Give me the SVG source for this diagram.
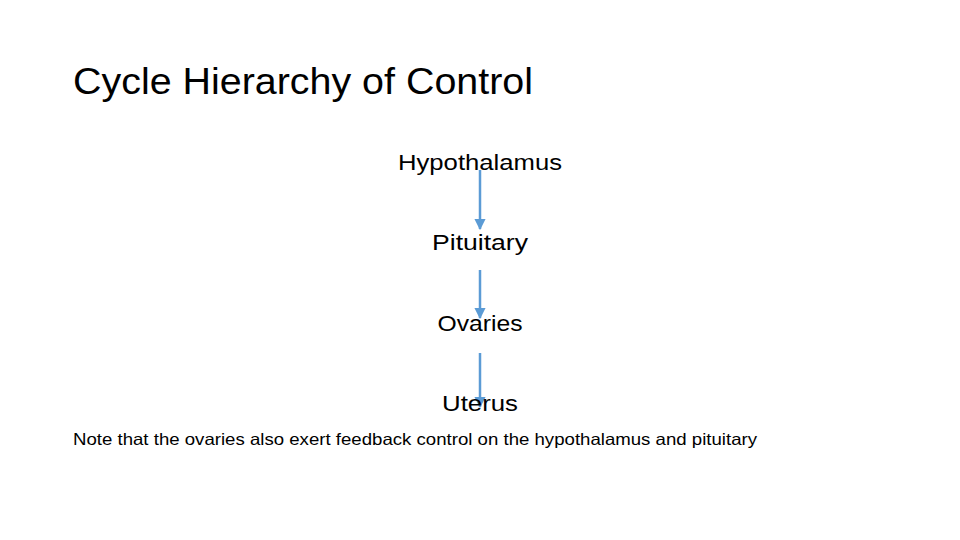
<svg xmlns="http://www.w3.org/2000/svg" width="960" height="540" viewBox="0 0 960 540">
<defs>
<style>
text{font-family:"Liberation Sans",Arial,sans-serif;fill:#000}
.t{font-size:36px}
.n{font-size:22px;text-anchor:middle}
.s{font-size:16.5px}
.c line{stroke:#5B9BD5;stroke-width:2.5;marker-end:url(#ah)}
</style>
<marker id="ah" viewBox="0 0 10 10" refX="9" refY="5" markerWidth="4.5" markerHeight="4.5" orient="auto" markerUnits="strokeWidth">
<path d="M0,0 L10,5 L0,10 z" fill="#5B9BD5"/>
</marker>
</defs>
<rect width="960" height="540" fill="#fff"/>
<text class="t" x="73" y="94" textLength="460" lengthAdjust="spacingAndGlyphs">Cycle Hierarchy of Control</text>
<g class="c">
<line x1="480" y1="170" x2="480" y2="229"/>
<line x1="480" y1="270" x2="480" y2="318"/>
<line x1="480" y1="353" x2="480" y2="407"/>
</g>
<g id="hypothalamus"><text class="n" x="480" y="170" textLength="164" lengthAdjust="spacingAndGlyphs">Hypothalamus</text></g>
<g id="pituitary"><text class="n" x="480" y="250" textLength="96" lengthAdjust="spacingAndGlyphs">Pituitary</text></g>
<g id="ovaries"><text class="n" x="480" y="331" textLength="85" lengthAdjust="spacingAndGlyphs">Ovaries</text></g>
<g id="uterus"><text class="n" x="480" y="411" textLength="76" lengthAdjust="spacingAndGlyphs">Uterus</text></g>
<text class="s" x="73" y="445" textLength="684" lengthAdjust="spacingAndGlyphs">Note that the ovaries also exert feedback control on the hypothalamus and pituitary</text>
</svg>
